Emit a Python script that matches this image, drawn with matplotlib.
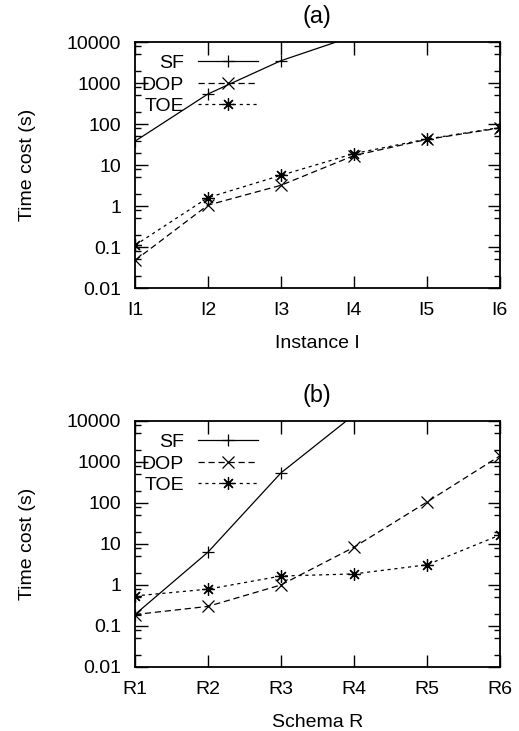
import matplotlib.pyplot as plt
import numpy as np
from matplotlib.ticker import LogLocator, NullFormatter, FixedLocator

plt.rcParams['font.family'] = ['Liberation Sans', 'DejaVu Sans']
plt.rcParams['font.size'] = 14

# panel (a): instances
inst_labels = ["I1", "I2", "I3", "I4", "I5", "I6"]
sf_a = [38, 540, 3500, 14000]
dop_a = [0.047, 1.05, 3.2, 17, 42, 80]
toe_a = [0.11, 1.6, 5.6, 19, 43, 82]

# panel (b): schemas
schema_labels = ["R1", "R2", "R3", "R4", "R5", "R6"]
sf_b = [0.19, 6.3, 540, 14000]
dop_b = [0.19, 0.3, 1.0, 8.3, 105, 1400]
toe_b = [0.54, 0.79, 1.65, 1.86, 3.1, 16.5]

fig = plt.figure(figsize=(5.19, 7.31), dpi=100)
ax_a = fig.add_axes([0.260, 0.606, 0.703, 0.3365])
ax_b = fig.add_axes([0.260, 0.0876, 0.703, 0.3365])


def draw(ax, labels, sf, dop, toe, title, xlabel):
    x = np.arange(len(labels))
    ax.plot(x[:len(sf)], sf, color='k', lw=0.9, marker='+', ms=9, mew=0.9, label="SF")
    ax.plot(x, dop, color='k', lw=0.9, ls=(0, (5, 3)), marker='x', ms=8, mew=0.9, label="DOP")
    ax.plot(x, toe, color='k', lw=0.9, ls=(0, (2.5, 3)), marker=(8, 2, 0), ms=9, mew=0.9, label="TOE")

    ax.set_yscale('log')
    ax.set_ylim(0.01, 10000)
    ax.set_xlim(0, len(labels) - 1)
    ax.yaxis.set_major_locator(FixedLocator([0.01, 0.1, 1, 10, 100, 1000, 10000]))
    ax.set_yticklabels(["0.01", "0.1", "1", "10", "100", "1000", "10000"])
    ax.yaxis.set_minor_locator(LogLocator(base=10, subs=(2, 5, 8), numticks=20))
    ax.yaxis.set_minor_formatter(NullFormatter())
    ax.set_xticks(x)
    ax.set_xticklabels(labels)
    ax.tick_params(which='major', direction='in', length=9, width=1, top=True, right=True, pad=10)
    ax.tick_params(which='minor', direction='in', length=4.5, width=1, right=True)
    ax.tick_params(axis='x', which='minor', top=False, bottom=False)
    for s in ax.spines.values():
        s.set_linewidth(1.3)

    ax.set_title(title, pad=14)
    ax.set_xlabel(xlabel)
    ax.xaxis.set_label_coords(0.5, -0.19)
    ax.set_ylabel("Time cost (s)")
    ax.yaxis.set_label_coords(-0.272, 0.5)

    ax.legend(loc='upper left', bbox_to_anchor=(-0.016, 1.0), markerfirst=False,
              frameon=False, handlelength=3.1, handletextpad=0.7, labelspacing=0.2,
              borderaxespad=0.0, borderpad=0.65, numpoints=1)


draw(ax_a, inst_labels, sf_a, dop_a, toe_a, "(a)", "Instance I")
draw(ax_b, schema_labels, sf_b, dop_b, toe_b, "(b)", "Schema R")

fig.savefig("out.png", dpi=100)
